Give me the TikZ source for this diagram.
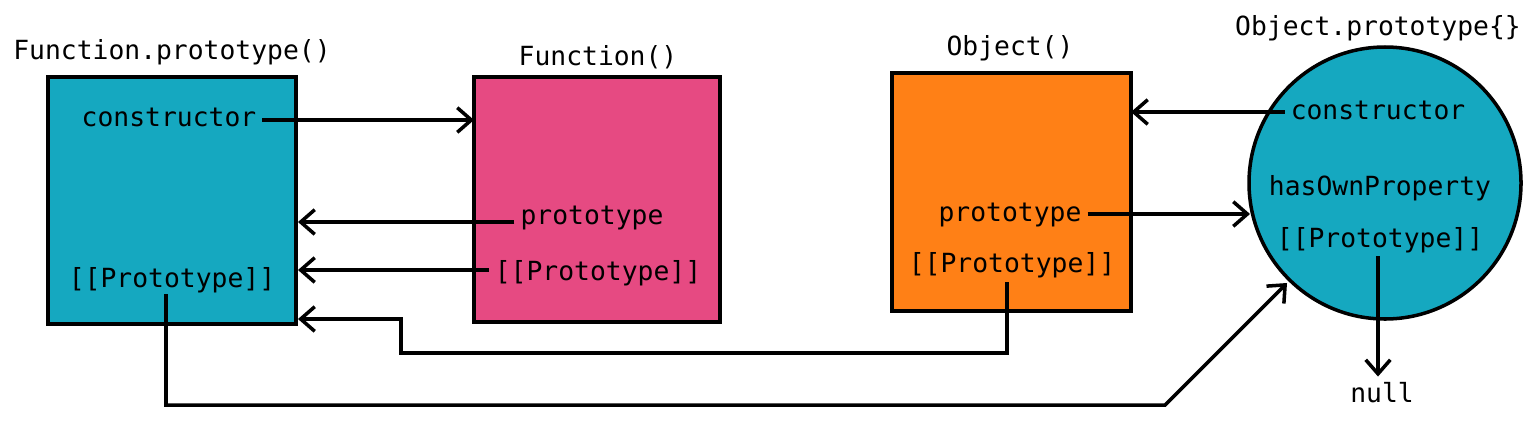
\documentclass[tikz,border=0pt]{standalone}
\usepackage{fontspec}
\setmonofont{DejaVu Sans Mono}
\usetikzlibrary{arrows.meta}
\definecolor{boxTeal}{HTML}{15A8C0}
\definecolor{boxPink}{HTML}{E64A82}
\definecolor{boxOrange}{HTML}{FF8016}
\begin{document}
\begin{tikzpicture} [
    x=0.02cm, y=-0.02cm,
    edge/.style={-{Straight Barb[length=8pt,width=14pt]}, line width=2pt},
    objBox/.style={rectangle, draw, line width=2pt},
    lbl/.style={font=\ttfamily\fontsize{15}{18}\selectfont}
]
\useasboundingbox (0,0) rectangle (1537,420);

\draw[objBox, fill=boxTeal] (48,77) rectangle (296,324);
\draw[objBox, fill=boxPink] (474,77) rectangle (720,322);
\draw[objBox, fill=boxOrange] (892,73) rectangle (1131,311);
\draw[line width=2pt, fill=boxTeal] (1385,183) circle (136);

\node[lbl] (fp_title) at (172,52) {Function.prototype()};
\node[lbl] (f_title) at (598,57) {Function()};
\node[lbl] (o_title) at (1010,48) {Object()};
\node[lbl] (op_title) at (1378,28) {Object.prototype\{\}};
\node[lbl] (null) at (1382,393) {null};

\node[lbl] (fp_ctor) at (169,117) {constructor};
\node[lbl] (fp_proto) at (172,280) {[[Prototype]]};
\node[lbl] (f_prototype) at (592,218) {prototype};
\node[lbl] (f_proto) at (598,273) {[[Prototype]]};
\node[lbl] (o_prototype) at (1010,215) {prototype};
\node[lbl] (o_proto) at (1012,265) {[[Prototype]]};
\node[lbl] (op_ctor) at (1378,110) {constructor};
\node[lbl] (op_has) at (1380,188) {hasOwnProperty};
\node[lbl] (op_proto) at (1380,240) {[[Prototype]]};

\coordinate (fp_in1) at (298,222);
\coordinate (fp_in2) at (298,270);
\coordinate (fp_in3) at (298,319);
\coordinate (f_in) at (474,120);
\coordinate (o_in) at (1131,112);
\coordinate (op_in1) at (1250,214);
\coordinate (op_in2) at (1287,283);

\draw[edge] (fp_ctor.east |- f_in) -- (f_in);
\draw[edge] (f_prototype.west |- fp_in1) -- (fp_in1);
\draw[edge] (f_proto.west |- fp_in2) -- (fp_in2);
\draw[edge] (1007,282) -- (1007,353) -- (401,353) -- (401,319) -- (fp_in3);
\draw[edge] (166,294) -- (166,405) -- (1165,405) -- (op_in2);
\draw[edge] (op_ctor.west |- o_in) -- (o_in);
\draw[edge] (o_prototype.east |- op_in1) -- (op_in1);
\draw[edge] (1378,256) -- (null.north -| 1378,0);

\end{tikzpicture}
\end{document}
